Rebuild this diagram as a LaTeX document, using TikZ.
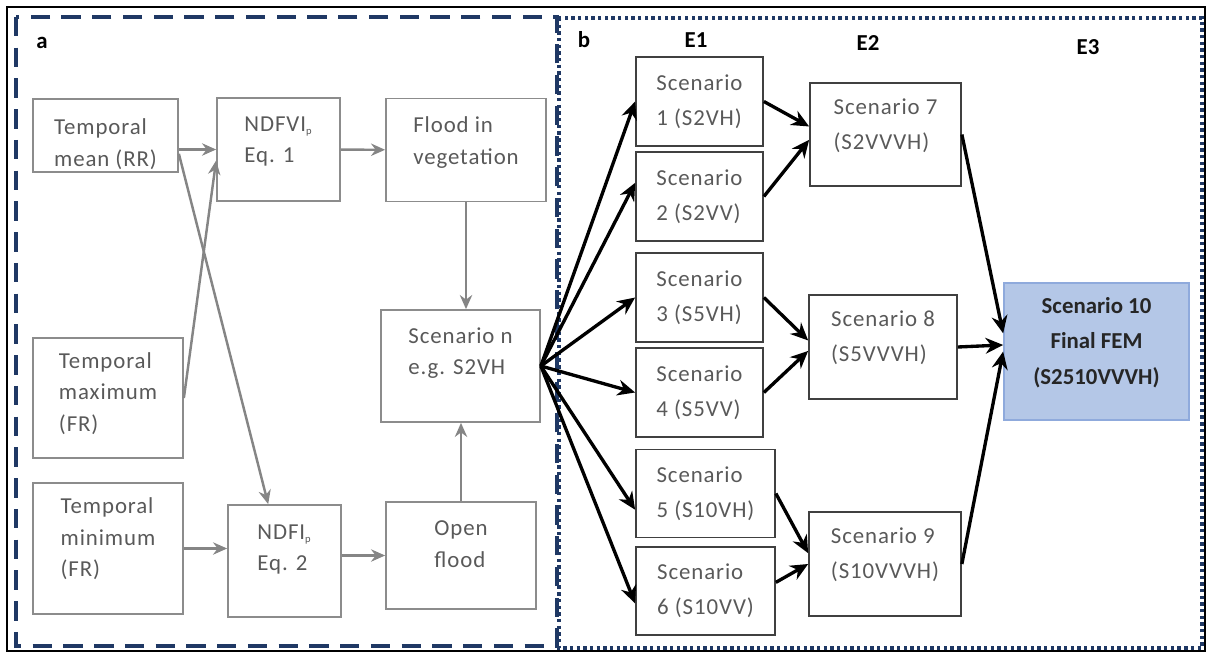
\documentclass[tikz,border=0pt]{standalone}
\usepackage{fontspec}
\setmainfont{Carlito}
\newfontfamily\boxfont[LetterSpace=4]{Carlito}
\usepackage{xcolor}
\usetikzlibrary{arrows.meta}

\definecolor{navy}{HTML}{1F3864}
\definecolor{boxgray}{HTML}{8C8C8C}
\definecolor{txtgray}{HTML}{595959}
\definecolor{arrgray}{HTML}{858585}
\definecolor{darkbox}{HTML}{404040}
\definecolor{femfill}{HTML}{B4C7E7}
\definecolor{femline}{HTML}{8FAADC}

\tikzset{
  box/.style={shape=rectangle, draw=boxgray, line width=1pt, align=left,
    text=txtgray, inner sep=0pt, font=\boxfont\fontsize{13}{18}\selectfont},
  sbox/.style={box, draw=darkbox, font=\boxfont\fontsize{13}{20}\selectfont},
  lift/.style={execute at end node={\rule[-#1]{0pt}{#1}}},
  garrow/.style={-{Stealth[length=8pt,width=7pt]}, arrgray, line width=1.4pt},
  barrow/.style={-{Stealth[length=10pt,width=9pt]}, black, line width=1.9pt},
  tag/.style={font=\bfseries\fontsize{13}{15}\selectfont}
}
\newcommand{\subp}{\textsubscript{\fontsize{6}{6}\selectfont p}}

\begin{document}
\begin{tikzpicture}[
            x = 0.02cm, y = -0.02cm, % pixel grid
        ]
\useasboundingbox (0,0) rectangle (1206,652);
\draw[line width=1pt] (7,7) rectangle (1205,651);
\draw[navy, line width=1.8pt, dash pattern=on 11pt off 6.5pt] (16,17) rectangle (557,646);
\draw[navy, line width=1.9pt, dash pattern=on 1.9pt off 1.9pt] (559,18) rectangle (1202,648);

% panel a
\node[tag] (pa) at (42,43) {a};
\node[box, minimum width=2.9cm, minimum height=1.46cm] (mean) at (105.5,135.5) {\rule{0pt}{19pt}Temporal\\mean (RR)};
\node[box, lift=11pt, minimum width=2.46cm, minimum height=2.06cm] (ndfvi) at (278.5,149.5) {NDFVI\subp\\Eq. 1};
\node[box, lift=11pt, minimum width=3.2cm, minimum height=2.06cm] (flood) at (466,150) {Flood in\\vegetation};
\node[box, lift=7pt, minimum width=3cm, minimum height=2.4cm] (tmax) at (108,398) {Temporal\\maximum\\(FR)};
\node[box, lift=13pt, minimum width=3cm, minimum height=2.62cm] (tmin) at (108,548.5) {Temporal\\minimum\\(FR)};
\node[box, lift=15pt, minimum width=2.26cm, minimum height=2.24cm] (ndfi) at (284.5,561) {NDFI\subp\\Eq. 2};
\node[box, lift=13pt, minimum width=3cm, minimum height=2.14cm] (open) at (461,555.5) {Open\\flood};
\node[box, lift=17pt, minimum width=3.18cm, minimum height=2.24cm] (scen) at (460.5,366) {Scenario n\\e.g. S2VH};

 \path [garrow] (mean.east |- ndfvi.west) edge (ndfvi.west);
 \path [garrow] (ndfvi) edge (flood);
 \path [garrow] (flood.south) edge (flood.south |- scen.north);
 \path [garrow] (tmax.east) edge (ndfvi.190);
 \path [garrow] (mean.346) edge (ndfi.106);
 \path [garrow] (tmin.east) edge (tmin.east -| ndfi.west);
 \path [garrow] (ndfi.east |- open.west) edge (open.west);
 \path [garrow] (open.north) edge (open.north |- scen.south);

% panel b
\node[tag] (pb) at (584,40) {b};
\node[tag] (E1) at (696,40) {E1};
\node[tag] (E2) at (868,43) {E2};
\node[tag] (E3) at (1088,47) {E3};
\node[sbox, minimum width=2.54cm, minimum height=1.78cm] (S1) at (699.5,101.5) {Scenario\\1 (S2VH)};
\node[sbox, minimum width=2.54cm, minimum height=1.78cm] (S2) at (699.5,196.5) {Scenario\\2 (S2VV)};
\node[sbox, minimum width=2.54cm, minimum height=1.78cm] (S3) at (699.5,297.5) {Scenario\\3 (S5VH)};
\node[sbox, minimum width=2.54cm, minimum height=1.78cm] (S4) at (699.5,392.5) {Scenario\\4 (S5VV)};
\node[sbox, minimum width=2.78cm, minimum height=1.76cm] (S5) at (705.5,493.5) {Scenario\\5 (S10VH)};
\node[sbox, minimum width=2.78cm, minimum height=1.76cm] (S6) at (705.5,591) {Scenario\\6 (S10VV)};
\node[sbox, lift=12pt, minimum width=3.02cm, minimum height=2.06cm] (S7) at (885.5,134.5) {Scenario 7\\(S2VVVH)};
\node[sbox, lift=12pt, minimum width=2.96cm, minimum height=2.08cm] (S8) at (883,347) {Scenario 8\\(S5VVVH)};
\node[sbox, lift=12pt, minimum width=3.04cm, minimum height=2.08cm] (S9) at (885,564) {Scenario 9\\(S10VVVH)};
\node[sbox, fill=femfill, draw=femline, text=black!85, align=center, lift=12pt,
      font=\bfseries\fontsize{13}{20}\selectfont,
      minimum width=3.7cm, minimum height=2.74cm] (S10) at (1096.5,351.5) {Scenario 10\\Final FEM\\(S2510VVVH)};

 \path [barrow] (scen.east) edge (S1.west);
 \path [barrow] (scen.east) edge (S2.168);
 \path [barrow] (scen.east) edge (S3.west);
 \path [barrow] (scen.east) edge (S4.west);
 \path [barrow] (scen.east) edge (S5.193);
 \path [barrow] (scen.east) edge (S6.190);
 \path [barrow] (S1.east) edge (S7.174);
 \path [barrow] (S2.east) edge (S7.184);
 \path [barrow] (S3.east) edge (S8.175);
 \path [barrow] (S4.east) edge (S8.183);
 \path [barrow] (S5.east) edge (S9.172);
 \path [barrow] (S6.7) edge (S9.west);
 \path [barrow] (S7.east) edge (S10.169);
 \path [barrow] (S8.east) edge (S10.176);
 \path [barrow] (S9.east) edge (S10.west);
\end{tikzpicture}
\end{document}
